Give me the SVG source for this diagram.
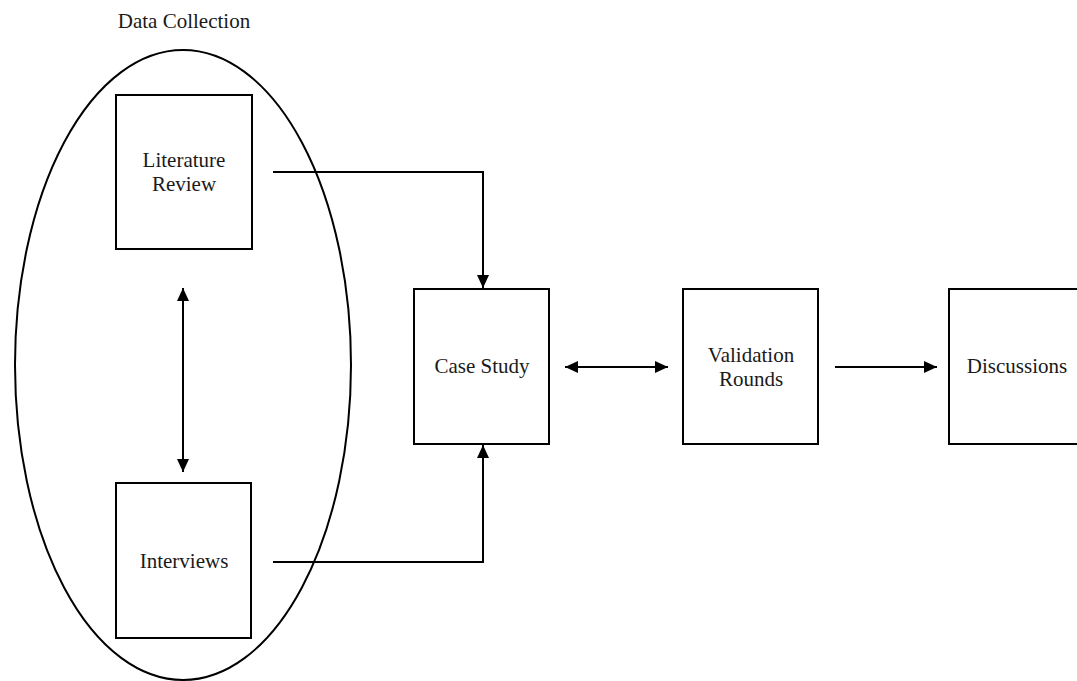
<svg xmlns="http://www.w3.org/2000/svg" width="1077" height="681" viewBox="0 0 1077 681">
<style>
.box{fill:#fff;stroke:#000;stroke-width:2}
.lbl{font-family:"Liberation Serif","Times New Roman",serif;font-size:21px;fill:#1a1a1a;text-anchor:middle}
.con{fill:none;stroke:#000;stroke-width:2}
</style>
<defs>
<marker id="ah" viewBox="0 0 13 12" refX="13" refY="6" markerWidth="13" markerHeight="12" markerUnits="userSpaceOnUse" orient="auto-start-reverse">
<path d="M0,0 L13,6 L0,12 z" fill="#000"/>
</marker>
</defs>
<rect width="1077" height="681" fill="#fff"/>
<g id="data-collection">
<ellipse cx="183" cy="365" rx="168" ry="315" fill="none" stroke="#000" stroke-width="2"/>
<text class="lbl" x="184" y="28">Data Collection</text>
</g>
<g id="literature-review">
<rect class="box" x="116" y="95" width="136" height="154"/>
<text class="lbl" x="184" y="167">Literature</text>
<text class="lbl" x="184" y="191">Review</text>
</g>
<g id="interviews">
<rect class="box" x="116" y="483" width="135" height="155"/>
<text class="lbl" x="184" y="568">Interviews</text>
</g>
<g id="case-study">
<rect class="box" x="414" y="289" width="135" height="155"/>
<text class="lbl" x="482" y="373">Case Study</text>
</g>
<g id="validation-rounds">
<rect class="box" x="683" y="289" width="135" height="155"/>
<text class="lbl" x="751" y="362">Validation</text>
<text class="lbl" x="751" y="386">Rounds</text>
</g>
<g id="discussions">
<rect class="box" x="949" y="289" width="135" height="155"/>
<text class="lbl" x="1017" y="373">Discussions</text>
</g>
<g id="connectors">
<path class="con" d="M273,172 H483 V288" marker-end="url(#ah)"/>
<path class="con" d="M273,562 H483 V445" marker-end="url(#ah)"/>
<path class="con" d="M183,288 V472" marker-start="url(#ah)" marker-end="url(#ah)"/>
<path class="con" d="M565,367 H668" marker-start="url(#ah)" marker-end="url(#ah)"/>
<path class="con" d="M835,367 H937" marker-end="url(#ah)"/>
</g>
</svg>
